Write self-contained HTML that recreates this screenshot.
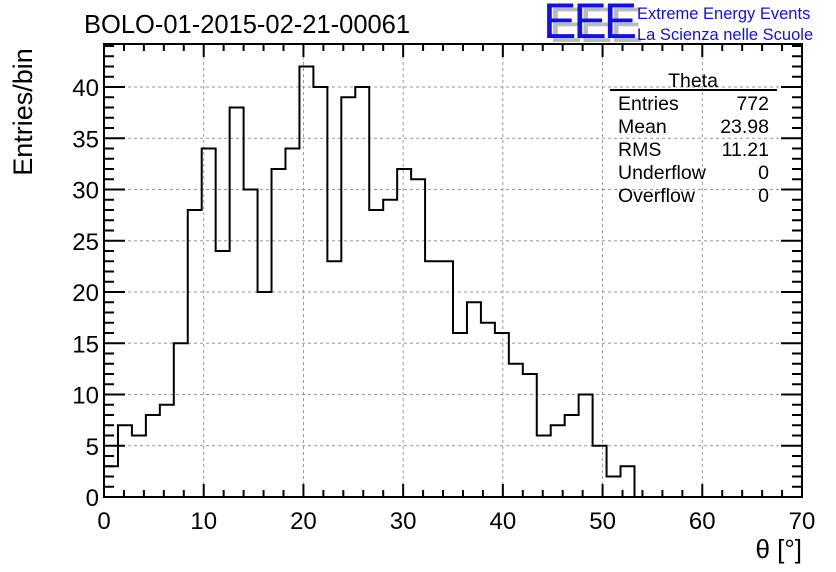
<!DOCTYPE html>
<html><head><meta charset="utf-8"><style>
body{margin:0;background:#fff;}
svg{display:block;font-family:"Liberation Sans",sans-serif;}
</style></head><body>
<svg id="chart" width="836" height="572" viewBox="0 0 836 572">
<rect width="836" height="572" fill="#fff"/>
<text x="84" y="33" font-size="25.5" fill="#000">BOLO-01-2015-02-21-00061</text>
<g>
<text x="549" y="42" font-size="50" fill="#bbb" letter-spacing="-3">EEE</text>
<text x="543" y="38" font-size="50" fill="#1010ee" letter-spacing="-3">EEE</text>
<text x="637" y="19" font-size="16.5" fill="#1010ee">Extreme Energy Events</text>
<text x="637" y="40" font-size="16.5" fill="#1010ee">La Scienza nelle Scuole</text>
</g>
<g id="grid"></g>
<g id="ticks"></g>
<path id="hist" fill="none" stroke="#000" stroke-width="2"/>
<rect x="104" y="44" width="698" height="453" fill="none" stroke="#000" stroke-width="2"/>
<text transform="translate(32,112) rotate(-90)" text-anchor="middle" font-size="27">Entries/bin</text>
<text x="802" y="558" text-anchor="end" font-size="26">θ [°]</text>
<g font-size="19.5">
<text x="693" y="87" text-anchor="middle">Theta</text>
<line x1="610" y1="90" x2="777" y2="90" stroke="#000" stroke-width="2"/>
<text x="618" y="110">Entries</text><text x="769" y="110" text-anchor="end">772</text>
<text x="618" y="133">Mean</text><text x="769" y="133" text-anchor="end">23.98</text>
<text x="618" y="156">RMS</text><text x="769" y="156" text-anchor="end">11.21</text>
<text x="618" y="179">Underflow</text><text x="769" y="179" text-anchor="end">0</text>
<text x="618" y="202">Overflow</text><text x="769" y="202" text-anchor="end">0</text>
</g>
</svg>
<script>
const binWidth = 1.4;
const counts = [3,7,6,8,9,15,28,34,24,38,30,20,32,34,42,40,23,39,40,28,29,32,31,23,23,16,19,17,16,13,12,6,7,8,10,5,2,3,0,0,0,0,0,0,0,0,0,0,0,0];
const xTicks = [0,10,20,30,40,50,60,70];
const yTicks = [0,5,10,15,20,25,30,35,40];
const NS="http://www.w3.org/2000/svg";
const X0=104,X1=802,Y0=497,xMax=70,yScale=10.25;
const sx=v=>X0+v*(X1-X0)/xMax;
const sy=v=>Y0-v*yScale;
const grid=document.getElementById('grid'), ticks=document.getElementById('ticks');
function ln(g,x1,y1,x2,y2,attrs){const l=document.createElementNS(NS,'line');l.setAttribute('x1',x1);l.setAttribute('y1',y1);l.setAttribute('x2',x2);l.setAttribute('y2',y2);for(const k in attrs)l.setAttribute(k,attrs[k]);g.appendChild(l);return l;}
function tx(g,x,y,s,anchor){const t=document.createElementNS(NS,'text');t.setAttribute('x',x);t.setAttribute('y',y);t.setAttribute('font-size','24');t.setAttribute('text-anchor',anchor);t.textContent=s;g.appendChild(t);return t;}
xTicks.forEach(v=>{
  const x=sx(v);
  if(v>0&&v<xMax){const g=ln(grid,x,44,x,Y0,{stroke:'#999','stroke-dasharray':'3,3','stroke-width':1});
  
  }
  ln(ticks,x,Y0,x,Y0-13,{stroke:'#000','stroke-width':2});
  ln(ticks,x,44,x,57,{stroke:'#000','stroke-width':2});
  const t=tx(ticks,x,529,String(v),'middle');
  
  
});
for(let v=2;v<xMax;v+=2){if(v%10===0)continue;const x=sx(v);
  ln(ticks,x,Y0,x,Y0-7,{stroke:'#000','stroke-width':2});
  ln(ticks,x,44,x,51,{stroke:'#000','stroke-width':2});}
yTicks.forEach(v=>{
  const y=sy(v);
  if(v>0){const g=ln(grid,X0,y,X1,y,{stroke:'#999','stroke-dasharray':'3,3','stroke-width':1});
  
  }
  ln(ticks,X0,y,X0+21,y,{stroke:'#000','stroke-width':2});
  ln(ticks,X1,y,X1-21,y,{stroke:'#000','stroke-width':2});
  const t=tx(ticks,99,y+9,String(v),'end');
  
  
});
for(let v=1;v<=44;v++){if(v%5===0)continue;const y=sy(v);
  ln(ticks,X0,y,X0+10,y,{stroke:'#000','stroke-width':2});
  ln(ticks,X1,y,X1-10,y,{stroke:'#000','stroke-width':2});}
let d='M'+sx(0)+','+sy(0);
counts.forEach((c,i)=>{d+=' L'+sx(i*binWidth)+','+sy(c)+' L'+sx((i+1)*binWidth)+','+sy(c);});
document.getElementById('hist').setAttribute('d',d);
</script>
</body></html>
